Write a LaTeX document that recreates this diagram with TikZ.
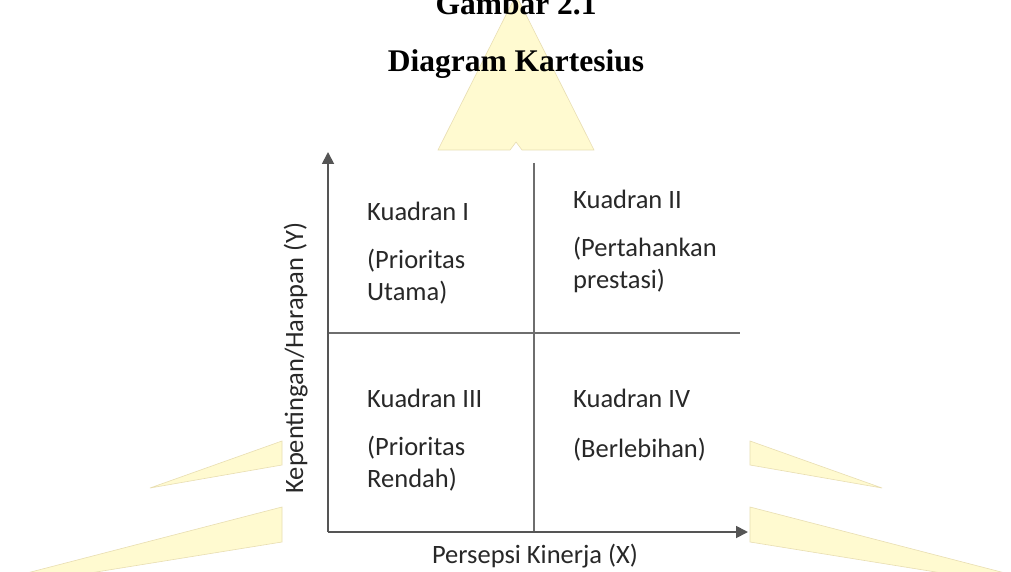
\documentclass[tikz,border=0pt]{standalone}
\usepackage{fontspec}
\setmainfont{Liberation Serif}
\newfontfamily\calfont{Carlito}
\usetikzlibrary{arrows.meta}
\definecolor{wm}{RGB}{255,250,208}
\definecolor{wmline}{RGB}{232,222,178}
\definecolor{axisgray}{RGB}{85,85,85}
\definecolor{divgray}{RGB}{110,110,110}
\definecolor{txtgray}{RGB}{40,40,40}
\begin{document}
\begin{tikzpicture}[x=1pt,y=-1pt,
  wmshape/.style={fill=wm, draw=wmline, line width=0.6pt},
  axisline/.style={draw=axisgray, line width=1.8pt, -{Triangle[length=12pt,width=12pt]}},
  divline/.style={draw=divgray, line width=1.6pt},
  lbl/.style={font=\calfont\fontsize{26.5}{32}\selectfont, text=txtgray, inner sep=0pt, anchor=base west},
  ttl/.style={font=\bfseries\fontsize{31.5}{36}\selectfont, inner sep=0pt, anchor=base}]
\useasboundingbox (0,0) rectangle (1011,572);
\fill[white] (0,0) rectangle (1011,572);
% watermark
\path[wmshape] (438,150) -- (516,-5) -- (594,150) -- (522,150) -- (516,142) -- (510,150) -- cycle;
\path[wmshape] (150,488) -- (282,441) -- (282,465) -- cycle;
\path[wmshape] (27,573) -- (282,507) -- (282,542) -- (90,573) -- cycle;
\path[wmshape] (882,488) -- (750,441) -- (750,465) -- cycle;
\path[wmshape] (1005,573) -- (750,507) -- (750,542) -- (942,573) -- cycle;
% titles
\node[ttl] (t1) at (516,15) {Gambar 2.1};
\node[ttl] (t2) at (516,72) {Diagram Kartesius};
% axes
\coordinate (O) at (328,532);
\coordinate (ytip) at (328,152);
\coordinate (xtip) at (748,532);
\coordinate (vtop) at (534,163);
\coordinate (vbot) at (534,532);
\coordinate (hl) at (328,333);
\coordinate (hr) at (740,333);
\draw[divline] (vtop) -- (vbot);
\draw[divline] (hl) -- (hr);
\draw[axisline] (O) -- (ytip);
\draw[axisline] (O) -- (xtip);
% quadrant texts
\node[lbl] (q1a) at (367,220) {Kuadran I};
\node[lbl] (q1b) at (367,268) {(Prioritas};
\node[lbl] (q1c) at (367,300) {Utama)};
\node[lbl] (q2a) at (573,208) {Kuadran II};
\node[lbl] (q2b) at (573,256) {(Pertahankan};
\node[lbl] (q2c) at (573,288) {prestasi)};
\node[lbl] (q3a) at (367,407) {Kuadran III};
\node[lbl] (q3b) at (367,455) {(Prioritas};
\node[lbl] (q3c) at (367,487) {Rendah)};
\node[lbl] (q4a) at (573,407) {Kuadran IV};
\node[lbl] (q4b) at (573,457) {(Berlebihan)};
% axis labels
\node[lbl, anchor=base] (xl) at (535,563) {Persepsi Kinerja (X)};
\node[lbl, anchor=base, rotate=90] (yl) at (303,358) {Kepentingan/Harapan (Y)};
\end{tikzpicture}
\end{document}
